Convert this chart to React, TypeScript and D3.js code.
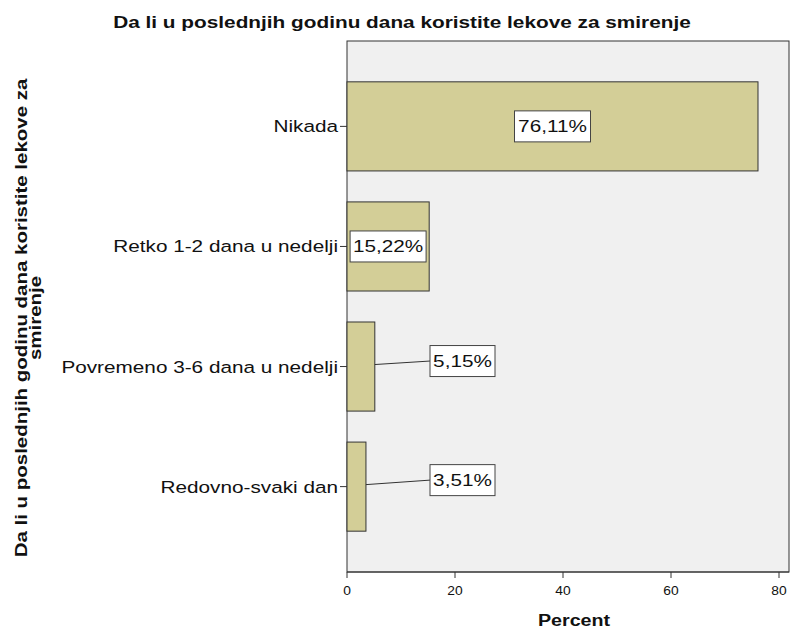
import * as d3 from 'd3';

const title = 'Da li u poslednjih godinu dana koristite lekove za smirenje';
const yTitleLines = ['Da li u poslednjih godinu dana koristite lekove za', 'smirenje'];
const categories = ['Nikada', 'Retko 1-2 dana u nedelji', 'Povremeno 3-6 dana u nedelji', 'Redovno-svaki dan'];
const percents = [76.11, 15.22, 5.15, 3.51];
const labels = ['76,11%', '15,22%', '5,15%', '3,51%'];
const xTicks = [0, 20, 40, 60, 80];

const W = 790;
const H = 630;
const plot = { left: 347, top: 41, right: 789, bottom: 572 };
const font = '"Liberation Sans", Arial, sans-serif';

// SPSS output is stretched a bit horizontally, so text gets a scaleX
function WideText({ x, y, sx, size, anchor = 'middle', bold = false, children }: any) {
  return (
    <g transform={`translate(${x},${y}) scale(${sx},1)`}>
      <text textAnchor={anchor} fontSize={size} fontWeight={bold ? 'bold' : 'normal'} fill="#111">{children}</text>
    </g>
  );
}

export default function App() {
  const x = d3.scaleLinear().domain([0, 80]).range([plot.left, 779]);
  const y = d3.scaleBand<string>()
    .domain(categories)
    .range([plot.top, plot.bottom])
    .paddingInner(0.258)
    .paddingOuter(0.34);

  return (
    <svg width={W} height={H} style={{ position: 'absolute', left: 0, top: 0 }} fontFamily={font}>
      <WideText x={402} y={28} sx={1.3} size={16} bold>{title}</WideText>

      <rect x={plot.left} y={plot.top} width={plot.right - plot.left} height={plot.bottom - plot.top}
        fill="#f0f0f0" stroke="#333" strokeWidth={1} />

      {categories.map((c, i) => {
        const y0 = y(c)!;
        const bw = y.bandwidth();
        const xe = x(percents[i]);
        const cy = y0 + bw / 2;
        const inside = percents[i] > 10;
        const boxW = labels[i].length > 5 ? 76 : 65;
        const boxH = 31;
        const bx = inside ? (plot.left + xe) / 2 - boxW / 2 : 430;
        const by = inside ? cy - boxH / 2 : cy - 21 - (i === 3 ? 1 : 0);
        return (
          <g key={c}>
            <rect x={plot.left} y={y0} width={xe - plot.left} height={bw}
              fill="#d3ce97" stroke="#333" strokeWidth={1} />
            <line x1={340} x2={plot.left} y1={cy} y2={cy} stroke="#333" />
            <WideText x={338} y={cy + 6} sx={1.22} size={17} anchor="end">{c}</WideText>
            {!inside && (
              <line x1={xe} y1={cy - 2} x2={bx} y2={by + boxH / 2} stroke="#333" />
            )}
            <rect x={bx} y={by} width={boxW} height={boxH} fill="#fff" stroke="#444" strokeWidth={1} />
            <WideText x={bx + boxW / 2} y={by + boxH / 2 + 6} sx={1.22} size={17}>{labels[i]}</WideText>
          </g>
        );
      })}

      <line x1={plot.left} x2={plot.right} y1={plot.bottom} y2={plot.bottom} stroke="#333" />
      {xTicks.map(t => (
        <g key={t}>
          <line x1={x(t)} x2={x(t)} y1={plot.bottom} y2={plot.bottom + 6} stroke="#333" />
          <WideText x={x(t)} y={595} sx={1.15} size={12}>{t}</WideText>
        </g>
      ))}
      <WideText x={574} y={626} sx={1.23} size={16} bold>Percent</WideText>

      <g transform="translate(27,318) rotate(-90) scale(1.28,1)">
        <text x={0} y={0} textAnchor="middle" fontSize={16} fontWeight="bold" fill="#111">{yTitleLines[0]}</text>
      </g>
      <g transform="translate(41,318) rotate(-90) scale(1.28,1)">
        <text x={0} y={0} textAnchor="middle" fontSize={16} fontWeight="bold" fill="#111">{yTitleLines[1]}</text>
      </g>
    </svg>
  );
}
